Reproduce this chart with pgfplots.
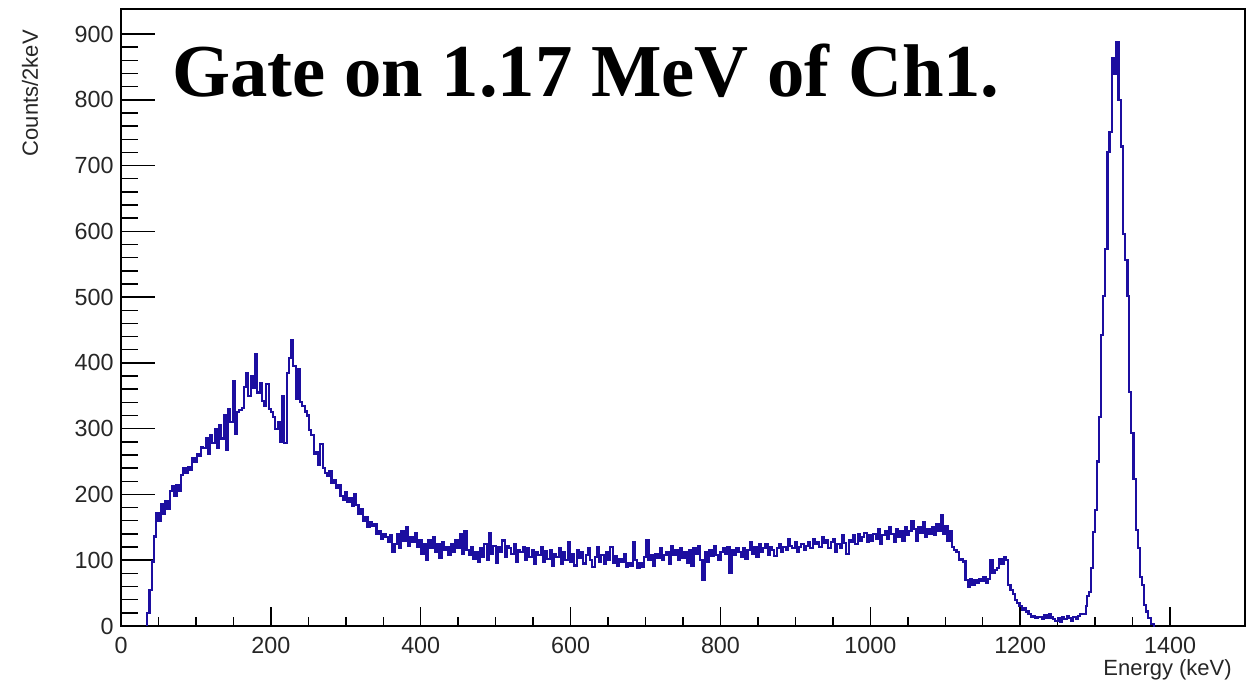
\documentclass[border=0pt]{standalone}
\usepackage{pgfplots}
\pgfplotsset{compat=1.18}
\usepackage{fontspec}
\setmainfont{Liberation Sans}
\newfontfamily\titlefont{Liberation Serif}
\definecolor{histblue}{RGB}{28,14,160}
\begin{document}
\begin{tikzpicture}
\path[use as bounding box] (-90.75pt,-44.25pt) rectangle (846pt,469.5pt);
\begin{axis}[
  scale only axis,
  width=843pt, height=462.75pt,
  at={(0pt,0pt)}, anchor=south west,
  xmin=0, xmax=1500, ymin=0, ymax=938,
  xtick={0,200,400,600,800,1000,1200,1400},
  ytick={0,100,200,300,400,500,600,700,800,900},
  minor x tick num=3, minor y tick num=4,
  xtick pos=bottom, ytick pos=left,
  tick align=inside,
  axis line style={line width=1.2pt, black},
  every tick/.style={black, line width=1.1pt},
  xtick style={/pgfplots/major tick length=13.9pt, /pgfplots/minor tick length=6.8pt},
  ytick style={/pgfplots/major tick length=25.3pt, /pgfplots/minor tick length=12.7pt},
  /pgf/number format/assume math mode=true,
  /pgf/number format/1000 sep={},
  ticklabel style={font=\fontsize{17.5}{19}\selectfont, text=black!85},
  xticklabel style={yshift=-4.5pt},
  yticklabel style={xshift=-2pt},
]
\addplot[const plot, color=histblue, line width=1.6pt] coordinates {
(35,0)(35,20)(38,55)(41,98)(44,136)(47,172)(50,160)(53,185)(56,170)(59,190)
(62,178)(65,205)(68,212)(71,198)(74,215)(77,205)(80,230)(83,240)(86,232)(89,242)
(92,238)(95,255)(98,250)(101,262)(104,258)(107,272)(110,270)(113,285)(116,262)(119,290)
(122,278)(125,300)(128,270)(131,305)(134,285)(137,320)(140,268)(143,330)(146,310)(149,372)
(152,292)(155,325)(158,328)(161,332)(164,364)(167,385)(170,350)(173,380)(176,362)(179,413)
(182,355)(185,370)(188,342)(191,335)(194,368)(197,330)(200,325)(203,318)(206,300)(209,310)
(212,280)(215,350)(218,278)(221,384)(224,408)(227,435)(230,395)(233,345)(236,390)(239,340)
(242,335)(245,326)(248,320)(251,298)(254,290)(257,262)(260,265)(263,245)(266,277)(269,240)
(272,232)(275,228)(278,235)(281,218)(284,222)(287,210)(290,215)(293,198)(296,192)(299,203)
(302,188)(305,195)(308,182)(311,200)(314,184)(317,170)(320,178)(323,160)(326,165)(329,150)
(332,158)(335,152)(338,155)(341,140)(344,145)(347,132)(350,140)(353,135)(356,128)(359,138)
(362,112)(365,125)(368,140)(371,118)(374,145)(377,130)(380,150)(383,122)(386,135)(389,128)
(392,141)(395,120)(398,130)(401,110)(404,125)(407,100)(410,130)(413,118)(416,135)(419,112)
(422,125)(425,104)(428,128)(431,115)(434,120)(437,108)(440,125)(443,113)(446,130)(449,118)
(452,140)(455,110)(458,145)(461,115)(464,108)(467,120)(470,102)(473,112)(476,98)(479,118)
(482,105)(485,125)(488,100)(491,141)(494,110)(497,122)(500,96)(503,120)(506,112)(509,130)
(512,105)(515,122)(518,118)(521,110)(524,125)(527,98)(530,115)(533,112)(536,120)(539,100)
(542,118)(545,105)(548,115)(551,95)(554,112)(557,108)(560,120)(563,98)(566,114)(569,102)
(572,115)(575,92)(578,110)(581,105)(584,118)(587,94)(590,112)(593,100)(596,128)(599,98)
(602,110)(605,92)(608,115)(611,104)(614,112)(617,95)(620,108)(623,118)(626,100)(629,90)
(632,105)(635,120)(638,98)(641,108)(644,94)(647,112)(650,100)(653,120)(656,96)(659,106)
(662,92)(665,102)(668,98)(671,110)(674,90)(677,95)(680,92)(683,128)(686,100)(689,88)
(692,96)(695,90)(698,105)(701,130)(704,100)(707,108)(710,92)(713,110)(716,104)(719,118)
(722,100)(725,108)(728,112)(731,95)(734,122)(737,108)(740,115)(743,100)(746,118)(749,104)
(752,112)(755,96)(758,115)(761,92)(764,118)(767,110)(770,122)(773,100)(776,70)(779,112)
(782,98)(785,115)(788,106)(791,122)(794,108)(797,100)(800,112)(803,118)(806,110)(809,120)
(812,80)(815,115)(818,108)(821,118)(824,112)(827,105)(830,118)(833,102)(836,115)(839,128)
(842,110)(845,120)(848,105)(851,125)(854,112)(857,118)(860,124)(863,108)(866,120)(869,115)
(872,106)(875,118)(878,125)(881,112)(884,120)(887,115)(890,132)(893,122)(896,118)(899,128)
(902,112)(905,120)(908,125)(911,116)(914,122)(917,128)(920,118)(923,132)(926,125)(929,128)
(932,120)(935,135)(938,126)(941,130)(944,118)(947,128)(950,132)(953,112)(956,125)(959,118)
(962,138)(965,126)(968,110)(971,130)(974,128)(977,138)(980,125)(983,140)(986,130)(989,135)
(992,142)(995,128)(998,138)(1001,130)(1004,140)(1007,132)(1010,148)(1013,125)(1016,138)(1019,145)
(1022,132)(1025,150)(1028,140)(1031,128)(1034,148)(1037,135)(1040,145)(1043,130)(1046,150)(1049,138)
(1052,145)(1055,160)(1058,148)(1061,130)(1064,150)(1067,142)(1070,158)(1073,135)(1076,148)(1079,140)
(1082,150)(1085,138)(1088,155)(1091,145)(1094,168)(1097,140)(1100,152)(1103,130)(1106,145)(1109,120)
(1112,115)(1115,112)(1118,100)(1121,102)(1124,98)(1127,70)(1130,60)(1133,72)(1136,62)(1139,70)
(1142,65)(1145,72)(1148,68)(1151,75)(1154,66)(1157,72)(1160,100)(1163,80)(1166,85)(1169,88)
(1172,102)(1175,95)(1178,105)(1181,100)(1184,62)(1187,55)(1190,48)(1193,40)(1196,35)(1199,30)
(1202,25)(1205,28)(1208,22)(1211,18)(1214,14)(1217,15)(1220,12)(1223,14)(1226,14)(1229,10)
(1232,16)(1235,12)(1238,18)(1241,13)(1244,10)(1247,8)(1250,12)(1253,6)(1256,13)(1259,10)
(1262,15)(1265,12)(1268,8)(1271,14)(1274,11)(1277,15)(1280,18)(1283,18)
(1287.6,30)(1289.7,45)(1291.6,52)(1294.3,88)(1297.3,143)(1300,176)(1302.3,250)(1305.3,318)
(1307.6,442)(1310.4,502)(1313.7,573)(1316.4,720)(1319.1,751)(1322.3,863)(1324.9,840)(1327.6,888)
(1331.1,800)(1334.3,729)(1337.7,596)(1340.4,556)(1343.1,502)(1345.7,356)(1347.6,293)(1351.1,224)
(1354.3,146)(1357.3,118)(1360,75)(1363.1,62)(1365.3,32)(1368,22)(1370.7,12)(1374.3,3)(1378,0)(1380,0)
};
\end{axis}
\node[anchor=base west, inner sep=0pt, font=\titlefont\bfseries\fontsize{56}{60}\selectfont] at (38.25pt,396.75pt) {Gate on 1.17 MeV of Ch1.};
\node[rotate=90, anchor=east, inner sep=0pt, font=\fontsize{16.5}{18}\selectfont, text=black!85] at (-68.25pt,447pt) {Counts/2keV};
\node[anchor=east, inner sep=0pt, font=\fontsize{16.5}{18}\selectfont, text=black!85] at (833.25pt,-33pt) {Energy (keV)};
\end{tikzpicture}
\end{document}
